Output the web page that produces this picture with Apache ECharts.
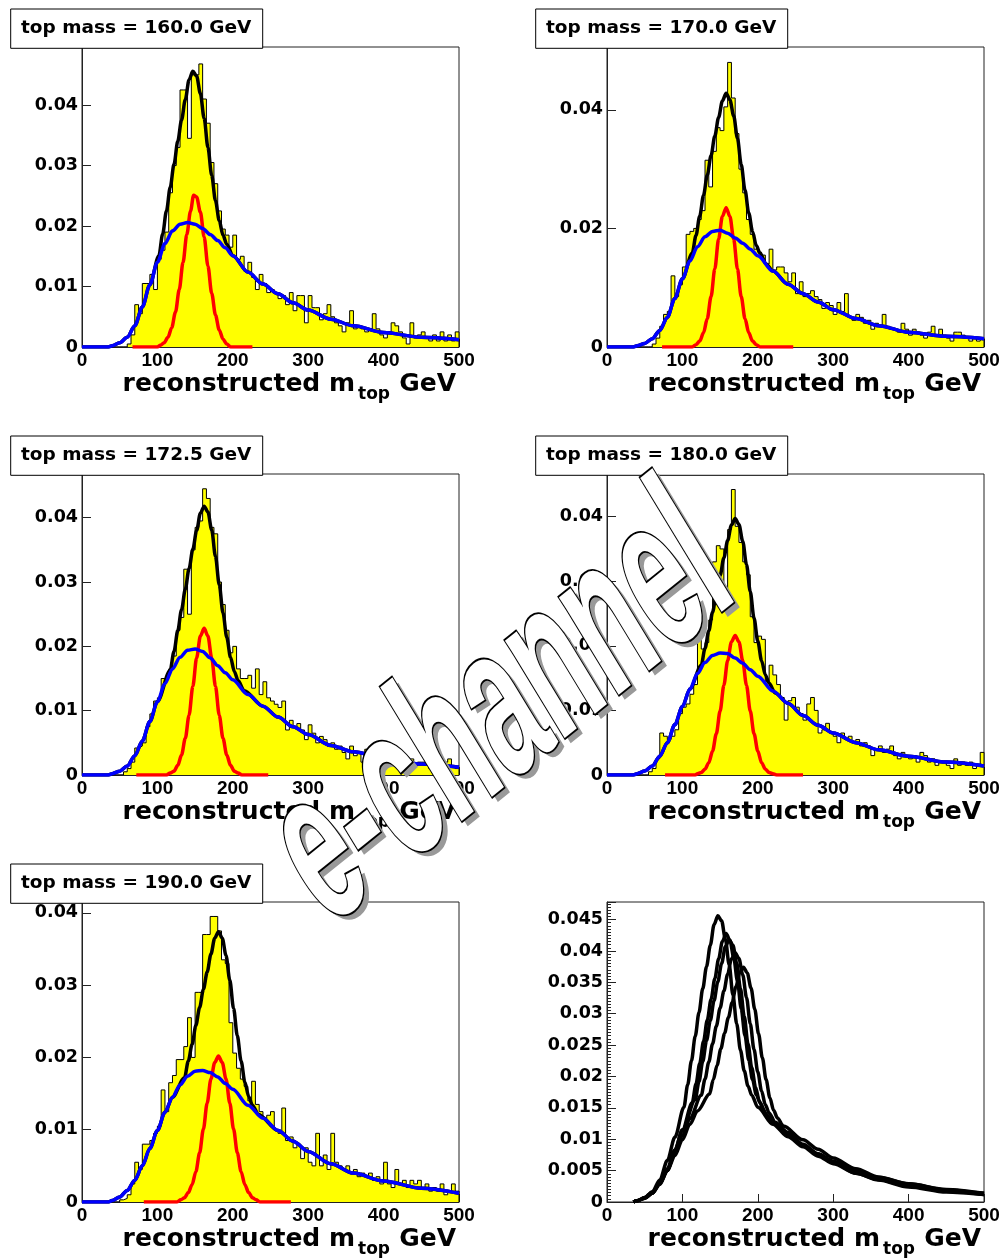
<!DOCTYPE html>
<html><head><meta charset="utf-8">
<script src="https://cdn.jsdelivr.net/npm/echarts@6/dist/echarts.min.js"></script>
<style>html,body{margin:0;padding:0;background:#fff}#c{width:1005px;height:1259px}</style>
</head><body><div id="c"></div><script>
// ---------------- data ----------------
const titles = ['top mass = 160.0 GeV','top mass = 170.0 GeV','top mass = 172.5 GeV','top mass = 180.0 GeV','top mass = 190.0 GeV'];
const xTicks = [0,100,200,300,400,500];
const BIN_W = 5; // GeV per histogram bin, 100 bins from 0 to 500

const hist160 = [0,0,0,0,0,0,0,0,0,0,0,0,
0.0005,0.002,0.007,0.0055,0.0105,0.0105,0.012,0.0095,
0.0145,0.016,0.019,0.0255,0.030,0.033,0.0425,0.0425,0.0345,0.045,
0.045,0.0468,0.041,0.037,0.0305,0.027,0.0225,0.0195,0.0185,0.0165,
0.0185,0.0145,0.015,0.0125,0.014,0.0115,0.0095,0.012,0.0105,0.009,
0.0095,0.009,0.008,0.0085,0.007,0.009,0.006,0.0085,0.0085,0.004,
0.0085,0.0065,0.0065,0.0045,0.0055,0.007,0.005,0.004,0.0035,0.0025,
0.004,0.006,0.003,0.0035,0.003,0.0025,0.003,0.0055,0.003,0.002,
0.0015,0.0025,0.004,0.0035,0.0025,0.0015,0.0005,0.004,0.0015,0.002,
0.0025,0.0015,0.001,0.002,0.001,0.0025,0.001,0.002,0.001,0.0025];
const hist170 = [0,0,0,0,0,0,0,0,0,0,0,0,
0.0005,0.0015,0.0035,0.0055,0.006,0.012,0.0085,0.0105,
0.0135,0.019,0.0195,0.02,0.0215,0.023,0.0315,0.027,0.033,0.037,
0.0365,0.0405,0.048,0.042,0.036,0.03,0.026,0.0215,0.019,0.0165,
0.016,0.0155,0.014,0.0165,0.013,0.0135,0.0135,0.0125,0.011,0.0125,
0.009,0.011,0.0085,0.009,0.0095,0.0085,0.008,0.0065,0.0075,0.007,
0.0055,0.0075,0.006,0.009,0.005,0.0045,0.0055,0.005,0.004,0.0045,
0.003,0.004,0.0035,0.0055,0.0035,0.003,0.003,0.0025,0.004,0.003,
0.002,0.003,0.0025,0.002,0.0015,0.0025,0.0035,0.002,0.003,0.002,
0.0015,0.001,0.0025,0.0025,0.002,0.0015,0.001,0.0015,0.001,0.0015];
const hist172 = [0,0,0,0,0,0,0,0,0,0,0,0.0005,
0.001,0.002,0.0042,0.0045,0.005,0.0075,0.0095,0.0115,
0.012,0.015,0.015,0.0165,0.0185,0.0225,0.0245,0.032,0.025,0.035,
0.0385,0.0395,0.0445,0.043,0.0385,0.0375,0.03,0.0265,0.0225,0.019,
0.02,0.0165,0.015,0.015,0.0155,0.0135,0.0165,0.0125,0.0145,0.012,
0.0115,0.011,0.0105,0.0115,0.007,0.0085,0.0075,0.008,0.007,0.0055,
0.0078,0.0065,0.005,0.006,0.0055,0.0045,0.005,0.004,0.0045,0.0035,
0.0025,0.0045,0.003,0.0035,0.002,0.004,0.0035,0.003,0.0025,0.003,
0.002,0.0035,0.0025,0.002,0.003,0.0015,0.002,0.0025,0.0015,0.002,
0.002,0.0015,0.001,0.0015,0.002,0.001,0.002,0.0025,0.0015,0.001];
const hist180 = [0,0,0,0,0,0,0,0,0,0,0,0.0005,
0.001,0.0025,0.0065,0.006,0.0055,0.006,0.007,0.0095,
0.0105,0.011,0.0125,0.014,0.0215,0.0195,0.0205,0.024,0.033,0.0355,
0.035,0.028,0.038,0.0442,0.0385,0.036,0.033,0.031,0.0245,0.0205,
0.0215,0.021,0.0145,0.017,0.0155,0.014,0.012,0.0085,0.0115,0.012,
0.0105,0.0095,0.0085,0.011,0.012,0.01,0.0065,0.007,0.008,0.0065,
0.006,0.005,0.0065,0.0055,0.006,0.005,0.0055,0.0045,0.005,0.0045,
0.003,0.004,0.0045,0.0035,0.004,0.0045,0.003,0.0025,0.0035,0.003,
0.0025,0.003,0.002,0.0035,0.003,0.002,0.0025,0.0015,0.002,0.002,
0.0015,0.001,0.0025,0.0015,0.002,0.0015,0.002,0.001,0.0015,0.0035];
const hist190 = [0,0,0,0,0,0,0,0,0,0,0.0003,0.0005,
0.001,0.0025,0.0055,0.0045,0.008,0.008,0.0085,0.0095,
0.0105,0.0155,0.0125,0.0165,0.0175,0.0197,0.0197,0.0215,0.0255,0.02,
0.029,0.029,0.037,0.037,0.0395,0.0395,0.0375,0.0335,0.033,0.0248,
0.0206,0.0185,0.017,0.016,0.014,0.0167,0.0135,0.0125,0.0115,0.012,
0.0125,0.01,0.0095,0.013,0.0085,0.009,0.0075,0.008,0.006,0.0075,
0.0055,0.005,0.0095,0.005,0.0065,0.0045,0.0095,0.0055,0.005,0.0045,
0.005,0.004,0.0045,0.0035,0.004,0.0035,0.004,0.003,0.0035,0.0025,
0.0055,0.0025,0.002,0.0045,0.0025,0.003,0.002,0.003,0.0025,0.003,
0.002,0.0025,0.0015,0.002,0.0015,0.0025,0.001,0.0015,0.0025,0.0015];

// blue (broad) fit component, sampled at blueX
const blueX = [0,35,40,50,60,70,80,90,100,110,120,130,140,150,160,170,180,190,200,220,240,260,280,300,330,360,400,450,500];
const blue160 = [0,0,0.0002,0.0007,0.0016,0.0035,0.0066,0.0103,0.0140,0.0171,0.0192,0.0203,0.0206,0.0203,0.0196,0.0186,0.0176,0.0164,0.0151,0.0124,0.0104,0.0088,0.0073,0.0061,0.0046,0.0035,0.0024,0.0016,0.0012];
const blue170 = [0,0,0.0002,0.0006,0.0014,0.0028,0.0050,0.0082,0.0115,0.0145,0.0169,0.0186,0.0195,0.0197,0.0192,0.0184,0.0175,0.0165,0.0154,0.0128,0.0106,0.0090,0.0076,0.0063,0.0048,0.0036,0.0025,0.0018,0.0014];
const blue172 = [0,0,0.0002,0.0006,0.0014,0.0030,0.0053,0.0083,0.0114,0.0142,0.0165,0.0183,0.0194,0.0196,0.0192,0.0182,0.0170,0.0159,0.0148,0.0125,0.0107,0.0090,0.0075,0.0063,0.0046,0.0036,0.0026,0.0017,0.0012];
const blue180 = [0,0,0.0002,0.0006,0.0014,0.0029,0.0050,0.0078,0.0106,0.0133,0.0157,0.0174,0.0185,0.0189,0.0188,0.0181,0.0173,0.0163,0.0153,0.0130,0.0111,0.0092,0.0077,0.0065,0.0050,0.0039,0.0029,0.0020,0.0014];
const blue190 = [0,0,0.0002,0.0007,0.0016,0.0030,0.0050,0.0074,0.0099,0.0124,0.0145,0.0162,0.0174,0.0181,0.0182,0.0179,0.0173,0.0164,0.0156,0.0134,0.0116,0.0099,0.0084,0.0070,0.0053,0.0040,0.0029,0.0019,0.0012];

// red (gaussian) fit component
const red160X = [67,100,104,109,114,119,124,129,134,139,144,148,152,157,162,167,172,177,182,187,192,197,226];
const red160  = [0,0,0.0003,0.0007,0.0016,0.0032,0.0058,0.0095,0.0140,0.0186,0.0225,0.0251,0.0248,0.0223,0.0182,0.0134,0.0089,0.0053,0.0028,0.0013,0.0005,0,0];
const red170X = [73,113,118,123,128,133,138,143,148,153,158,163,168,173,178,183,188,193,198,203,247];
const red170  = [0,0,0.0004,0.0010,0.0024,0.0048,0.0085,0.0132,0.0182,0.0220,0.0235,0.0220,0.0182,0.0132,0.0085,0.0048,0.0024,0.0010,0.0004,0,0];
const red172X = [72,112,117,122,127,132,137,142,147,152,157,162,167,172,177,182,187,192,197,202,207,212,247];
const red172  = [0,0,0.0003,0.0006,0.0015,0.0031,0.0057,0.0093,0.0138,0.0182,0.0216,0.0228,0.0216,0.0182,0.0138,0.0093,0.0057,0.0031,0.0015,0.0006,0.0003,0,0];
const red180X = [77,117,120,125,130,135,140,145,150,155,160,165,170,175,180,185,190,195,200,205,210,215,220,225,260];
const red180  = [0,0,0.0002,0.0004,0.0009,0.0019,0.0037,0.0064,0.0099,0.0139,0.0177,0.0206,0.0216,0.0206,0.0177,0.0139,0.0099,0.0064,0.0037,0.0019,0.0009,0.0004,0.0002,0,0];
const red190X = [82,126,131,136,141,146,151,156,161,166,171,176,181,186,191,196,201,206,211,216,221,226,231,236,277];
const red190  = [0,0,0.0003,0.0006,0.0013,0.0024,0.0042,0.0068,0.0101,0.0137,0.0170,0.0193,0.0202,0.0193,0.0170,0.0137,0.0101,0.0068,0.0042,0.0024,0.0013,0.0006,0.0003,0,0];

// black (total) fit
const black160X = [0,35,40,50,60,70,80,90,102,107,112,117,122,127,132,137,142,147,152,157,162,167,172,177,182,187,192,200,220,240,260,280,300,330,360,400,450,500];
const black160  = [0,0,0.0002,0.0007,0.0016,0.0035,0.0066,0.0103,0.0151,0.0187,0.0225,0.0264,0.0302,0.0340,0.0375,0.0409,0.0442,0.0456,0.0448,0.0419,0.0378,0.0330,0.0284,0.0242,0.0209,0.0185,0.0170,0.0151,0.0124,0.0104,0.0088,0.0073,0.0061,0.0046,0.0035,0.0024,0.0016,0.0012];
const black170X = [0,35,40,50,60,70,80,90,100,113,118,123,128,133,138,143,148,153,158,163,168,173,178,183,188,193,198,203,211,220,240,260,280,300,330,360,400,450,500];
const black170  = [0,0,0.0002,0.0006,0.0014,0.0028,0.0050,0.0082,0.0115,0.0158,0.0188,0.0221,0.0256,0.0290,0.0323,0.0356,0.0387,0.0415,0.0428,0.0417,0.0390,0.0352,0.0308,0.0265,0.0226,0.0195,0.0171,0.0158,0.0140,0.0128,0.0106,0.0090,0.0076,0.0063,0.0048,0.0036,0.0025,0.0018,0.0014];
const black172X = [0,35,40,50,60,70,80,90,100,117,122,127,132,137,142,147,152,157,162,167,172,177,182,187,192,197,202,207,215,240,260,280,300,330,360,400,450,500];
const black172  = [0,0,0.0002,0.0006,0.0014,0.0030,0.0053,0.0083,0.0114,0.0163,0.0192,0.0224,0.0257,0.0289,0.0321,0.0351,0.0380,0.0407,0.0418,0.0409,0.0381,0.0340,0.0296,0.0252,0.0214,0.0183,0.0161,0.0147,0.0131,0.0107,0.0090,0.0075,0.0063,0.0046,0.0036,0.0026,0.0017,0.0012];
const black180X = [0,35,40,50,60,70,80,90,100,110,125,130,135,140,145,150,155,160,165,170,175,180,185,190,195,200,205,210,215,223,240,260,280,300,330,360,400,450,500];
const black180  = [0,0,0.0002,0.0006,0.0014,0.0029,0.0050,0.0078,0.0106,0.0133,0.0170,0.0196,0.0223,0.0252,0.0280,0.0309,0.0336,0.0363,0.0387,0.0397,0.0388,0.0362,0.0326,0.0284,0.0243,0.0207,0.0177,0.0155,0.0142,0.0127,0.0111,0.0092,0.0077,0.0065,0.0050,0.0039,0.0029,0.0020,0.0014];
const black190X = [0,35,40,50,60,70,80,90,100,110,120,136,141,146,151,156,161,166,171,176,181,186,191,196,201,206,211,216,221,226,234,260,280,300,330,360,400,450,500];
const black190  = [0,0,0.0002,0.0007,0.0016,0.0030,0.0050,0.0074,0.0099,0.0124,0.0145,0.0172,0.0195,0.0218,0.0244,0.0269,0.0294,0.0318,0.0343,0.0365,0.0374,0.0365,0.0341,0.0307,0.0268,0.0230,0.0195,0.0166,0.0146,0.0134,0.0121,0.0099,0.0084,0.0070,0.0053,0.0040,0.0029,0.0019,0.0012];

// y-axis ranges and label steps per panel (6th = overlay panel)
const yMax  = [0.0496,0.0506,0.0468,0.0466,0.0415,0.0478];
const yStep = [0.01,0.02,0.01,0.01,0.01,0.005];

// ---------------- layout ----------------
const COL_LEFT = [82, 607], ROW_TOP = [47, 474, 902], ROW_H = [300, 301, 300], PLOT_W = 377;
const hists = [hist160,hist170,hist172,hist180,hist190];
const blues = [blue160,blue170,blue172,blue180,blue190];
const reds = [[red160X,red160],[red170X,red170],[red172X,red172],[red180X,red180],[red190X,red190]];
const blacks = [[black160X,black160],[black170X,black170],[black172X,black172],[black180X,black180],[black190X,black190]];

const zip = (xs, ys) => xs.map((x, i) => [x, ys[i]]);
const yFmt = step => v => { const k = v / step; return Math.abs(k - Math.round(k)) < 1e-6 ? String(parseFloat(v.toFixed(4))) : ''; };

const grids = [], xAxes = [], yAxes = [], series = [], graphics = [];
const AX = '#222', LW = 3.5;
for (let p = 0; p < 6; p++) {
  const col = p % 2, row = Math.floor(p / 2);
  const left = COL_LEFT[col], top = ROW_TOP[row], h = ROW_H[row], bottom = top + h;
  grids.push({left, top, width: PLOT_W, height: h, show: true, borderColor: AX, borderWidth: 1, backgroundColor: 'rgba(0,0,0,0)'});
  xAxes.push({type: 'value', gridIndex: p, min: xTicks[0], max: xTicks[xTicks.length - 1], interval: xTicks[1] - xTicks[0],
    axisLine: {show: true, onZero: false, lineStyle: {color: AX, width: 1}},
    axisTick: {show: true, inside: true, length: 8, lineStyle: {color: AX}},
    axisLabel: {margin: 4, color: '#000', fontFamily: 'Liberation Sans', fontWeight: 'bold', fontSize: 19},
    splitLine: {show: false}});
  yAxes.push({type: 'value', gridIndex: p, min: 0, max: yMax[p], interval: yStep[p],
    axisLine: {show: true, onZero: false, lineStyle: {color: AX, width: 1}},
    axisTick: {show: true, inside: true, length: 9, lineStyle: {color: AX}},
    minorTick: {show: p === 5, splitNumber: 10, length: 4, lineStyle: {color: AX}},
    axisLabel: {margin: 4, color: '#000', fontFamily: 'DejaVu Sans', fontWeight: 'bold', fontSize: 17.5, formatter: yFmt(yStep[p])},
    splitLine: {show: false}});

  if (p < 5) {
    const hst = hists[p];
    const hData = hst.map((v, i) => [i * BIN_W, v]).concat([[hst.length * BIN_W, hst[hst.length - 1]], [hst.length * BIN_W, 0]]);
    series.push({type: 'line', xAxisIndex: p, yAxisIndex: p, data: hData, step: 'end', symbol: 'none', silent: true,
      lineStyle: {color: '#000', width: 1}, areaStyle: {color: '#ffff00', opacity: 1}});
    series.push({type: 'line', xAxisIndex: p, yAxisIndex: p, data: zip(blacks[p][0], blacks[p][1]), smooth: 0.3, smoothMonotone: 'x',
      symbol: 'none', silent: true, lineStyle: {color: '#000', width: LW}});
    series.push({type: 'line', xAxisIndex: p, yAxisIndex: p, data: zip(reds[p][0], reds[p][1]), smooth: 0.3, smoothMonotone: 'x',
      symbol: 'none', silent: true, lineStyle: {color: '#ff0000', width: LW}});
    series.push({type: 'line', xAxisIndex: p, yAxisIndex: p, data: zip(blueX, blues[p]), smooth: 0.3, smoothMonotone: 'x',
      symbol: 'none', silent: true, lineStyle: {color: '#0000ff', width: LW}});
    // title box
    graphics.push({type: 'rect', z: 10, shape: {x: left - 71.3, y: top - 38, width: 252, height: 39.3},
      style: {fill: '#fff', stroke: '#000', lineWidth: 1}});
    graphics.push({type: 'text', z: 11, x: left - 61, y: top - 18.5,
      style: {text: titles[p], fill: '#000', font: 'bold 18.5px "DejaVu Sans"', align: 'left', verticalAlign: 'middle'}});
  } else {
    for (let k = 0; k < 5; k++) {
      const d = zip(blacks[k][0], blacks[k][1]).filter(pt => pt[0] >= 35);
      series.push({type: 'line', xAxisIndex: p, yAxisIndex: p, data: d, smooth: 0.3, smoothMonotone: 'x',
        symbol: 'none', silent: true, lineStyle: {color: '#000', width: LW}});
    }
  }
  // x axis title
  graphics.push({type: 'text', z: 10, x: left + 273, y: bottom + 37,
    style: {text: 'reconstructed m', fill: '#000', font: 'bold 25px "DejaVu Sans"', align: 'right', verticalAlign: 'middle'}});
  graphics.push({type: 'text', z: 10, x: left + 276, y: bottom + 47.5,
    style: {text: 'top', fill: '#000', font: 'bold 17px "DejaVu Sans"', align: 'left', verticalAlign: 'middle'}});
  graphics.push({type: 'text', z: 10, x: left + 374, y: bottom + 37,
    style: {text: 'GeV', fill: '#000', font: 'bold 25px "DejaVu Sans"', align: 'right', verticalAlign: 'middle'}});
}

// watermark
const wmRot = 35 * Math.PI / 180;
graphics.push({type: 'group', z: 50, x: 503, y: 712, scaleY: 1.15, children: [
  {type: 'text', z: 50, x: 6, y: 4.5, rotation: wmRot, scaleX: 0.55,
    style: {text: 'e-channel', fill: '#999', font: 'bold 196px "Liberation Sans"', align: 'center', verticalAlign: 'middle'}},
  {type: 'text', z: 51, x: 0, y: 0, rotation: wmRot, scaleX: 0.55,
    style: {text: 'e-channel', fill: '#fff', stroke: '#000', lineWidth: 3.5, font: 'bold 196px "Liberation Sans"', align: 'center', verticalAlign: 'middle'}}
]});

const chart = echarts.init(document.getElementById('c'), null, {renderer: 'canvas'});
chart.setOption({animation: false, backgroundColor: '#fff', grid: grids, xAxis: xAxes, yAxis: yAxes, series, graphic: graphics});
</script></body></html>
